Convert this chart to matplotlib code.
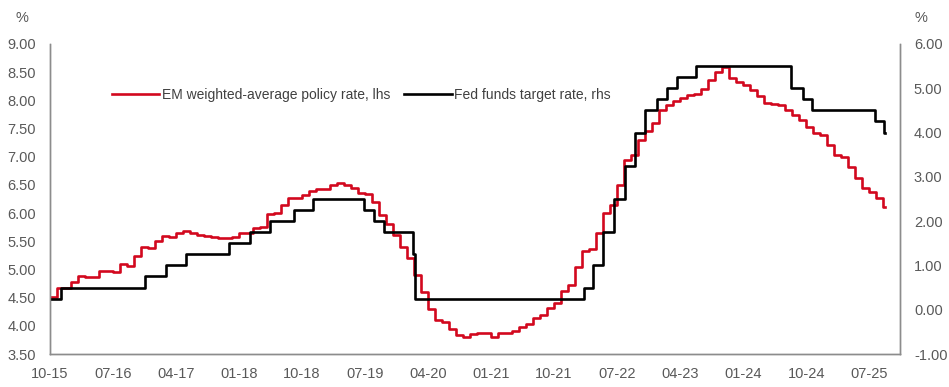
import matplotlib
matplotlib.use("Agg")
import matplotlib.pyplot as plt

# EM weighted-average policy rate (lhs), monthly steps from 10-15
em_rate = [
    4.52, 4.67, 4.67, 4.78, 4.88, 4.87, 4.86, 4.97, 4.97, 4.96,
    5.09, 5.07, 5.24, 5.40, 5.38, 5.51, 5.59, 5.57, 5.65, 5.69,
    5.65, 5.62, 5.60, 5.57, 5.55, 5.55, 5.58, 5.65, 5.65, 5.74,
    5.76, 5.98, 6.00, 6.14, 6.26, 6.27, 6.32, 6.40, 6.42, 6.43,
    6.50, 6.53, 6.50, 6.44, 6.36, 6.34, 6.20, 5.97, 5.80, 5.62,
    5.40, 5.20, 4.90, 4.60, 4.30, 4.10, 4.07, 3.95, 3.84, 3.80,
    3.86, 3.88, 3.88, 3.81, 3.87, 3.88, 3.90, 3.98, 4.04, 4.13,
    4.19, 4.31, 4.40, 4.62, 4.72, 5.05, 5.32, 5.36, 5.64, 6.00,
    6.14, 6.50, 6.94, 7.03, 7.30, 7.45, 7.60, 7.83, 7.92, 7.98,
    8.05, 8.10, 8.12, 8.21, 8.36, 8.50, 8.59, 8.39, 8.32, 8.28,
    8.18, 8.07, 7.95, 7.93, 7.92, 7.83, 7.74, 7.65, 7.53, 7.42,
    7.39, 7.21, 7.03, 7.00, 6.82, 6.62, 6.44, 6.37, 6.26, 6.10,
]
em_month = list(range(len(em_rate)))
em_end = 119.3

# Fed funds target rate (rhs): month position of each change and new level
fed_month = [0, 1.5, 13.6, 16.6, 19.4, 25.5, 28.6, 31.4, 34.8, 37.5,
             44.8, 46.3, 47.7, 51.9, 52.2, 76.2, 77.6, 79.0, 80.5, 82.1,
             83.6, 85.0, 86.7, 88.1, 89.5, 92.3, 105.9, 107.5, 108.9,
             117.9, 119.1]
fed_rate = [0.25, 0.50, 0.75, 1.00, 1.25, 1.50, 1.75, 2.00, 2.25, 2.50,
            2.25, 2.00, 1.75, 1.25, 0.25, 0.50, 1.00, 1.75, 2.50, 3.25,
            4.00, 4.50, 4.75, 5.00, 5.25, 5.50, 5.00, 4.75, 4.50,
            4.25, 4.00]
fed_end = 119.3

tick_labels = ["10-15", "07-16", "04-17", "01-18", "10-18", "07-19", "04-20",
               "01-21", "10-21", "07-22", "04-23", "01-24", "10-24", "07-25"]

plt.rcParams['font.family'] = ['Liberation Sans', 'DejaVu Sans']

red = '#D2081E'
grey_txt = '#595959'
spine_col = '#8c8c8c'

fig = plt.figure(figsize=(9.49, 3.87), dpi=100)
ax = fig.add_axes([50 / 949, 1 - 354 / 387, 850 / 949, 310 / 387])
ax2 = ax.twinx()

l1, = ax.step(em_month + [em_end], em_rate + [em_rate[-1]], where='post',
              color=red, lw=1.9, label='EM weighted-average policy rate, lhs')
l2, = ax2.step(fed_month + [fed_end], fed_rate + [fed_rate[-1]], where='post',
               color='black', lw=1.9, label='Fed funds target rate, rhs')

ax.set_xlim(0, 121.4)
ax.set_ylim(3.5, 9.0)
ax2.set_ylim(-1, 6)
ax.set_yticks([3.5 + 0.5 * i for i in range(12)])
ax.set_yticklabels([f"{3.5 + 0.5 * i:.2f}" for i in range(12)])
ax2.set_yticks(list(range(-1, 7)))
ax2.set_yticklabels([f"{v:.2f}" for v in range(-1, 7)])
ax.set_xticks([9 * i for i in range(len(tick_labels))])
ax.set_xticklabels(tick_labels)

for a in (ax, ax2):
    a.spines['top'].set_visible(False)
    for s in ('left', 'right', 'bottom'):
        a.spines[s].set_color(spine_col)
        a.spines[s].set_linewidth(1.0)
    a.tick_params(length=0, labelsize=10.5, labelcolor=grey_txt)
ax.tick_params(axis='x', pad=9)
ax.tick_params(axis='y', pad=10)
ax2.tick_params(axis='y', pad=10)

fig.text(22 / 949, 1 - 18 / 387, '%', fontsize=10.5, color=grey_txt,
         ha='center', va='center')
fig.text(921 / 949, 1 - 18 / 387, '%', fontsize=10.5, color=grey_txt,
         ha='center', va='center')

ax.legend(handles=[l1, l2], loc='center left', bbox_to_anchor=(49 / 850, 0.835),
          ncol=2, frameon=False, fontsize=10, handlelength=3.4,
          handletextpad=0.2, columnspacing=1.05, labelcolor='#404040')

fig.savefig('out.png', dpi=100)
